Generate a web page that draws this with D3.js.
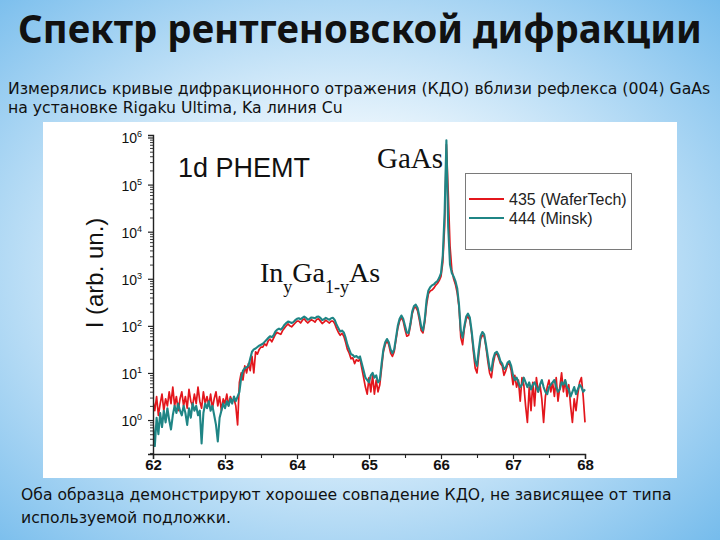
<!DOCTYPE html>
<html>
<head>
<meta charset="utf-8">
<script src="https://cdn.jsdelivr.net/npm/d3@7/dist/d3.min.js"></script>
<style>
  html, body { margin: 0; padding: 0; }
  body { width: 720px; height: 540px; overflow: hidden; }
</style>
</head>
<body>
<svg id="chart" width="720" height="540"></svg>
<script>
// ---------- data ----------
const titleText = "Спектр рентгеновской дифракции";
const introLines = [
  "Измерялись кривые дифракционного отражения (КДО) вблизи рефлекса (004) GaAs",
  "на установке Rigaku Ultima, Ka линия Cu"
];
const outroLines = [
  "Оба образца демонстрируют хорошее совпадение КДО, не зависящее от типа",
  "используемой подложки."
];
const seriesNames = ["435 (WaferTech)", "444 (Minsk)"];
const xTickValues = [62, 63, 64, 65, 66, 67, 68];
const yTickExponents = [0, 1, 2, 3, 4, 5, 6];

// 2θ sampling grid (62 … 68 deg, step 0.025)
const twoTheta = d3.range(241).map(i => +(62 + 0.025 * i).toFixed(3));

// sample 435 (WaferTech) intensity, arb. un.
const int435 = [
  2.51, 1.58, 3.16, 1.26, 2.24, 3.55, 1.58, 2.82, 2.0, 3.98,
  2.24, 5.01, 2.0, 3.16, 1.58, 2.82, 3.98, 2.0, 3.16, 1.78,
  4.47, 2.51, 2.0, 3.55, 2.24, 5.01, 2.51, 1.78, 3.98, 2.24,
  3.16, 2.0, 3.55, 1.78, 2.82, 3.98, 2.0, 3.16, 1.58, 2.82,
  2.24, 3.55, 2.0, 3.16, 2.51, 2.82, 2.0, 0.79, 6.31, 10,
  7.08, 14.1, 10, 15.8, 11.2, 22.4, 10, 28.2, 25.1, 31.6,
  35.5, 35.5, 41.7, 38, 47.9, 52.5, 45.7, 55, 66.1, 72.4,
  69.2, 66.1, 79.4, 89.1, 100, 110, 100, 95.5, 105, 115,
  126, 126, 115, 132, 141, 126, 115, 126, 135, 129,
  120, 138, 141, 126, 112, 120, 132, 123, 115, 126,
  126, 110, 87.1, 72.4, 63.1, 69.2, 60.3, 44.7, 31.6, 26.3,
  20, 20.9, 15.8, 19.1, 17.8, 20, 12.6, 7.94, 5.01, 3.55,
  7.94, 3.98, 8.91, 3.55, 7.08, 3.98, 5.62, 12.6, 28.2, 39.8,
  47.9, 39.8, 26.3, 22.4, 28.2, 50.1, 89.1, 126, 151, 126,
  83.2, 60.3, 63.1, 100, 178, 240, 251, 209, 132, 79.4,
  70.8, 120, 282, 479, 550, 575, 631, 724, 794, 912,
  1120, 2240, 12600, 708000, 70800, 5010, 1580, 1000, 759, 501,
  251, 56.2, 39.8, 89.1, 141, 158, 132, 70.8, 28.2, 12.6,
  10, 25.1, 52.5, 63.1, 60.3, 35.5, 17.8, 10, 7.94, 15.8,
  24, 26.3, 20.9, 15.8, 14.1, 8.91, 11.2, 15.1, 15.8, 11.2,
  5.62, 8.91, 5.01, 7.08, 2.51, 7.94, 5.62, 2.0, 0.89, 5.01,
  1.58, 6.31, 2.0, 7.94, 3.98, 5.62, 2.82, 0.89, 3.16, 5.01,
  7.08, 3.98, 6.31, 3.16, 7.94, 2.51, 5.01, 10, 3.98, 7.08,
  3.16, 5.62, 2.0, 0.89, 2.82, 1.58, 3.55, 6.31, 7.94, 3.16,
  0.89
];

// sample 444 (Minsk) intensity, arb. un.
const int444 = [
  0.79, 0.28, 1.12, 0.5, 1.41, 0.71, 1.58, 0.89, 1.78, 1.0,
  0.63, 1.26, 2.0, 1.41, 2.24, 1.58, 1.26, 2.0, 1.41, 0.79,
  1.78, 1.12, 2.24, 1.58, 2.0, 1.26, 1.58, 0.32, 1.41, 2.24,
  1.78, 2.51, 1.58, 2.0, 1.26, 0.79, 0.35, 1.12, 1.58, 2.24,
  1.78, 2.51, 2.0, 2.82, 2.24, 3.16, 2.51, 3.16, 3.98, 7.94,
  11.2, 12.6, 13.2, 14.1, 20, 28.2, 31.6, 33.1, 35.5, 38,
  39.8, 41.7, 45.7, 50.1, 55, 60.3, 57.5, 63.1, 75.9, 83.2,
  87.1, 83.2, 91.2, 105, 115, 123, 120, 115, 120, 132,
  141, 145, 138, 148, 158, 148, 135, 141, 151, 148,
  145, 155, 158, 148, 132, 138, 148, 141, 135, 145,
  148, 132, 105, 89.1, 75.9, 79.4, 72.4, 56.2, 39.8, 31.6,
  25.1, 24, 21.9, 22.9, 20.9, 22.4, 15.8, 11.2, 7.94, 7.08,
  6.31, 8.91, 10, 7.94, 8.91, 6.31, 7.08, 15.8, 31.6, 44.7,
  52.5, 44.7, 31.6, 26.3, 31.6, 56.2, 100, 141, 166, 141,
  100, 72.4, 70.8, 112, 200, 263, 282, 240, 158, 95.5,
  79.4, 141, 355, 562, 661, 724, 759, 832, 891, 1050,
  1320, 3160, 25100, 871000, 12600, 2000, 1320, 1120, 891, 631,
  282, 79.4, 56.2, 100, 158, 182, 151, 79.4, 35.5, 17.8,
  14.1, 31.6, 60.3, 74.1, 66.1, 39.8, 22.4, 12.6, 11.2, 20,
  26.3, 28.2, 24, 17.8, 15.8, 12, 13.2, 16.6, 17.8, 14.1,
  8.91, 7.08, 7.94, 6.31, 5.01, 5.62, 7.94, 6.31, 5.01, 6.31,
  4.47, 5.62, 6.31, 5.01, 3.98, 5.62, 7.08, 5.01, 3.98, 3.55,
  5.01, 5.62, 6.31, 7.08, 5.01, 3.98, 4.47, 6.31, 5.62, 7.08,
  5.01, 4.47, 3.16, 3.98, 5.01, 3.55, 4.47, 5.62, 5.01, 3.98,
  4.47
];

// ---------- drawing ----------
const svg = d3.select("#chart");
const W = 720, H = 540;
const colors = ["#e3161c", "#1f8585"];

// background gradient
const defs = svg.append("defs");
const grad = defs.append("radialGradient").attr("id", "bg")
  .attr("cx", "48%").attr("cy", "50%").attr("r", "72%");
grad.append("stop").attr("offset", "0%").attr("stop-color", "#ffffff");
grad.append("stop").attr("offset", "30%").attr("stop-color", "#f4fafe");
grad.append("stop").attr("offset", "100%").attr("stop-color", "#76bcec");
svg.append("rect").attr("width", W).attr("height", H).attr("fill", "url(#bg)");

// text blocks, horizontally scaled so the first line spans the measured width
function textBlock(lines, x, baselines, size, weight, family, firstWidth) {
  const grp = svg.append("g");
  const nodes = lines.map((t, i) => grp.append("text")
    .attr("x", 0).attr("y", baselines[i])
    .attr("font-family", family).attr("font-size", size)
    .attr("font-weight", weight).attr("fill", "#111")
    .text(t));
  const w0 = nodes[0].node().getComputedTextLength();
  const k = firstWidth / w0;
  grp.attr("transform", `translate(${x},0) scale(${k},1)`);
}
const bodyFont = "'DejaVu Sans', 'Liberation Sans', sans-serif";
textBlock([titleText], 18, [43], 40, "bold", "'Noto Sans', 'DejaVu Sans', sans-serif", 684);
textBlock(introLines, 8, [94, 113], 15.5, "normal", bodyFont, 703);
textBlock(outroLines, 21, [500, 523], 15.5, "normal", bodyFont, 651);

// white chart panel
svg.append("rect").attr("x", 43).attr("y", 122).attr("width", 634).attr("height", 356)
  .attr("fill", "#ffffff");

// scales
const x = d3.scaleLinear().domain([62, 68]).range([153, 585]);
const y = d3.scaleLog().domain([0.19, 1.13e6]).range([454, 135]);

const g = svg.append("g");
const clip = defs.append("clipPath").attr("id", "plotclip");
clip.append("rect").attr("x", 153).attr("y", 130).attr("width", 440).attr("height", 324);

const line = d3.line().x((d, i) => x(twoTheta[i])).y(d => y(Math.max(d, 0.19)));
const plot = g.append("g").attr("clip-path", "url(#plotclip)");
plot.append("path").datum(int435).attr("d", line)
  .attr("fill", "none").attr("stroke", colors[0]).attr("stroke-width", 1.7)
  .attr("stroke-linejoin", "round");
plot.append("path").datum(int444).attr("d", line)
  .attr("fill", "none").attr("stroke", colors[1]).attr("stroke-width", 2.1)
  .attr("stroke-linejoin", "round");

// x axis
const xAxis = d3.axisBottom(x).tickValues(xTickValues).tickSize(5).tickFormat(d3.format("d"));
const xg = g.append("g").attr("transform", "translate(0,454)").call(xAxis);
xg.select(".domain").attr("stroke", "#222").attr("stroke-width", 1.4);
xg.selectAll(".tick line").attr("stroke", "#222").attr("stroke-width", 1.2);
xg.selectAll(".tick text").attr("font-family", "'Liberation Sans', Arial, sans-serif")
  .attr("font-size", 15).attr("font-weight", "bold").attr("fill", "#111").attr("dy", "0.55em");
const xMinor = d3.axisBottom(x).tickValues(xTickValues.slice(0, -1).map(v => v + 0.5))
  .tickSize(4).tickFormat("");
const xmg = g.append("g").attr("transform", "translate(0,454)").call(xMinor);
xmg.select(".domain").remove();
xmg.selectAll(".tick line").attr("stroke", "#222").attr("stroke-width", 1.1);

// y axis (log)
const majors = yTickExponents.map(e => Math.pow(10, e));
const minors = [];
[-1, 0, 1, 2, 3, 4, 5].forEach(e => {
  for (let m = 2; m <= 9; m++) {
    const v = m * Math.pow(10, e);
    if (v >= 0.19 && v <= 1.13e6) minors.push(v);
  }
});
const yAxis = d3.axisLeft(y).tickValues(majors).tickSize(5).tickFormat("");
const yg = g.append("g").attr("transform", "translate(153,0)").call(yAxis);
yg.select(".domain").attr("stroke", "#222").attr("stroke-width", 1.4);
yg.selectAll(".tick line").attr("stroke", "#222").attr("stroke-width", 1.2);
const yMinor = d3.axisLeft(y).tickValues(minors).tickSize(3).tickFormat("");
const ymg = g.append("g").attr("transform", "translate(153,0)").call(yMinor);
ymg.select(".domain").remove();
ymg.selectAll(".tick line").attr("stroke", "#222").attr("stroke-width", 0.9);

// y tick labels 10^n
yTickExponents.forEach(e => {
  const t = g.append("text")
    .attr("x", 142).attr("y", y(Math.pow(10, e)) + 6)
    .attr("text-anchor", "end")
    .attr("font-family", "'Liberation Sans', Arial, sans-serif")
    .attr("font-size", 14).attr("fill", "#111");
  t.append("tspan").text("10");
  t.append("tspan").attr("font-size", 9).attr("dy", -6).text(String(e));
});

// y axis title
g.append("text")
  .attr("transform", "translate(103,273) rotate(-90)")
  .attr("text-anchor", "middle")
  .attr("font-family", "'Liberation Sans', Arial, sans-serif")
  .attr("font-size", 24).attr("fill", "#111")
  .text("I (arb. un.)");

// annotations
g.append("text").attr("x", 178).attr("y", 177)
  .attr("font-family", "'Liberation Sans', Arial, sans-serif")
  .attr("font-size", 27).attr("fill", "#111").text("1d PHEMT");
g.append("text").attr("x", 377).attr("y", 168)
  .attr("font-family", "'Liberation Serif', 'Times New Roman', serif")
  .attr("font-size", 29).attr("fill", "#111").text("GaAs");
const ing = g.append("text").attr("x", 260).attr("y", 282)
  .attr("font-family", "'Liberation Serif', 'Times New Roman', serif")
  .attr("font-size", 28).attr("fill", "#111");
ing.append("tspan").text("In");
ing.append("tspan").attr("font-size", 18).attr("dy", 11).text("y");
ing.append("tspan").attr("dy", -11).text("Ga");
ing.append("tspan").attr("font-size", 18).attr("dy", 11).text("1-y");
ing.append("tspan").attr("dy", -11).text("As");

// legend
const lg = g.append("g");
lg.append("rect").attr("x", 465.5).attr("y", 173.5).attr("width", 166).attr("height", 76)
  .attr("fill", "#fff").attr("stroke", "#7a7a7a").attr("stroke-width", 1);
seriesNames.forEach((name, i) => {
  const yy = 199 + i * 19;
  lg.append("line").attr("x1", 469).attr("x2", 504).attr("y1", yy).attr("y2", yy)
    .attr("stroke", colors[i]).attr("stroke-width", 2.2);
  lg.append("text").attr("x", 509).attr("y", yy + 6)
    .attr("font-family", "'Liberation Sans', Arial, sans-serif")
    .attr("font-size", 16).attr("fill", "#222").text(name);
});
</script>
</body>
</html>
